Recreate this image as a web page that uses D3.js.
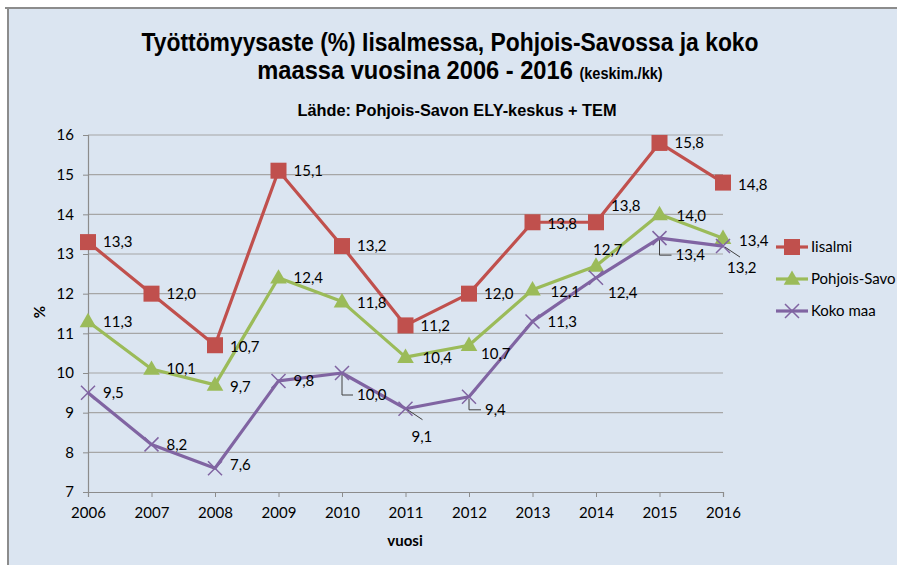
<!DOCTYPE html>
<html>
<head>
<meta charset="utf-8">
<script src="https://cdn.jsdelivr.net/npm/d3@7/dist/d3.min.js"></script>
<style>
  body { margin: 0; background: #fff; }
  svg { display: block; }
</style>
</head>
<body>
<div id="chart"></div>
<script>
let years = [2006, 2007, 2008, 2009, 2010, 2011, 2012, 2013, 2014, 2015, 2016];
let yTicks = [7, 8, 9, 10, 11, 12, 13, 14, 15, 16];
let seriesNames = ['Iisalmi', 'Pohjois-Savo', 'Koko maa'];
let iisalmi = [13.3, 12.0, 10.7, 15.1, 13.2, 11.2, 12.0, 13.8, 13.8, 15.8, 14.8];
let pohjoisSavo = [11.3, 10.1, 9.7, 12.4, 11.8, 10.4, 10.7, 12.1, 12.7, 14.0, 13.4];
let kokoMaa = [9.5, 8.2, 7.6, 9.8, 10.0, 9.1, 9.4, 11.3, 12.4, 13.4, 13.2];

// label offsets (dx, dy) from the point, plus optional leader type
let labelPos = [
    [[15, 0], [15, 0], [15, 2], [15, 0], [15, 0], [15, 0], [15, 0], [15, 1], [15, -17], [15, 0], [15, 2]],
    [[15, 0], [15, 0], [15, 2], [15, 0], [15, 1], [17, 1], [12, 9], [18, 2], [-3, -16], [17, 1], [16, 3]],
    [[15, 0], [15, 0], [15, -3], [15, 0], ['L', 15, 22], ['D', 6, 28], ['L', 16, 13], [15, 0], [12, 15], ['L', 16, 17], ['D', 4, 22]]
];

let colors = ['#c0504d', '#9bbb59', '#8064a2'];
let W = 897, H = 565;
let numFont = 'Lato, "Open Sans", sans-serif';
let titleFont = '"Liberation Sans", Arial, sans-serif';

let svg = d3.select('#chart').append('svg')
    .attr('width', W)
    .attr('height', H);

// frame
svg.append('rect').attr('x', 8).attr('y', 8).attr('width', W).attr('height', H)
    .attr('fill', '#dbe5f1');
svg.append('line').attr('x1', 5).attr('x2', W).attr('y1', 8).attr('y2', 8)
    .attr('stroke', '#8c8c8c').attr('stroke-width', 2);
svg.append('line').attr('x1', 8).attr('x2', 8).attr('y1', 8).attr('y2', H)
    .attr('stroke', '#8c8c8c').attr('stroke-width', 2);

// titles (condensed a bit, like the original)
function condensed(cx, cy, sx) {
    return svg.append('text')
        .attr('transform', 'translate(' + cx + ',' + cy + ') scale(' + sx + ',1)')
        .attr('text-anchor', 'middle')
        .style('font-family', titleFont)
        .style('font-weight', 'bold')
        .style('fill', '#000');
}
condensed(450, 51, 0.88).style('font-size', '26px')
    .text('Työttömyysaste (%) Iisalmessa, Pohjois-Savossa ja koko');
let t2 = condensed(460, 79, 0.91).style('font-size', '26px');
t2.append('tspan').text('maassa vuosina 2006 - 2016 ');
t2.append('tspan').style('font-size', '16px').text('(keskim./kk)');

condensed(457, 116, 0.96).style('font-size', '17px')
    .text('Lähde: Pohjois-Savon ELY-keskus + TEM');

let x = d3.scaleLinear().domain([2006, 2016]).range([88, 723]);
let y = d3.scaleLinear().domain([7, 16]).range([492, 135]);

// gridlines
svg.append('g').selectAll('line')
    .data(yTicks.slice(1))
    .enter().append('line')
    .attr('x1', x(2006)).attr('x2', x(2016))
    .attr('y1', d => y(d)).attr('y2', d => y(d))
    .attr('stroke', '#a6a6a6').attr('stroke-width', 1.2);

let yAxis = svg.append('g')
    .attr('transform', 'translate(' + x(2006) + ',0)')
    .call(d3.axisLeft(y).tickValues(yTicks).tickSize(5).tickPadding(9).tickFormat(d3.format('d')));
let xAxis = svg.append('g')
    .attr('transform', 'translate(0,' + y(7) + ')')
    .call(d3.axisBottom(x).tickValues(years).tickSize(5).tickPadding(10).tickFormat(d3.format('d')));

[yAxis, xAxis].forEach(a => {
    a.select('.domain').attr('stroke', '#8c8c8c').attr('stroke-width', 1.2);
    a.selectAll('.tick line').attr('stroke', '#8c8c8c');
    a.selectAll('text').style('font-family', numFont).style('font-size', '15px').style('fill', '#000');
});

svg.append('text')
    .attr('x', 405).attr('y', 546)
    .attr('text-anchor', 'middle')
    .style('font-family', numFont)
    .style('font-weight', 'bold')
    .style('font-size', '15px')
    .text('vuosi');
svg.append('text')
    .attr('transform', 'translate(45,312) rotate(-90)')
    .attr('text-anchor', 'middle')
    .style('font-family', numFont)
    .style('font-weight', 'bold')
    .style('font-size', '15px')
    .text('%');

let allSeries = [iisalmi, pohjoisSavo, kokoMaa];
let line = d3.line()
    .x((d, i) => x(years[i]))
    .y(d => y(d));

function drawMarker(g, type, cx, cy, color) {
    if (type === 0) {
        g.append('rect').attr('x', cx - 8).attr('y', cy - 8).attr('width', 16).attr('height', 16)
            .attr('fill', color);
    } else if (type === 1) {
        g.append('path').attr('d', d3.symbol().type(d3.symbolTriangle).size(120)())
            .attr('transform', 'translate(' + cx + ',' + (cy + 1) + ')')
            .attr('fill', color);
    } else {
        g.append('path')
            .attr('d', 'M' + (cx - 7) + ',' + (cy - 7) + 'L' + (cx + 7) + ',' + (cy + 7) +
                'M' + (cx - 7) + ',' + (cy + 7) + 'L' + (cx + 7) + ',' + (cy - 7))
            .attr('stroke', color).attr('stroke-width', 1.5).attr('fill', 'none');
    }
}

let plot = svg.append('g');
allSeries.forEach((s, k) => {
    plot.append('path')
        .datum(s)
        .attr('d', line)
        .attr('fill', 'none')
        .attr('stroke', colors[k])
        .attr('stroke-width', 3.2)
        .attr('stroke-linejoin', 'round');
    s.forEach((v, i) => drawMarker(plot, k, x(years[i]), y(v), colors[k]));
});

// data labels
let labels = svg.append('g');
allSeries.forEach((s, k) => {
    s.forEach((v, i) => {
        let p = labelPos[k][i], px = x(years[i]), py = y(v), dx, dy;
        if (p[0] === 'L') {
            dx = p[1]; dy = p[2];
            labels.append('path')
                .attr('d', 'M' + px + ',' + (py + 2) + 'V' + (py + dy) + 'H' + (px + dx - 4))
                .attr('stroke', '#404040').attr('fill', 'none').attr('stroke-width', 1);
        } else if (p[0] === 'D') {
            dx = p[1]; dy = p[2];
            labels.append('line')
                .attr('x1', px + 2).attr('y1', py + 1)
                .attr('x2', px + 17).attr('y2', py + 11)
                .attr('stroke', '#404040').attr('stroke-width', 1);
        } else {
            dx = p[0]; dy = p[1];
        }
        labels.append('text')
            .attr('x', px + dx).attr('y', py + dy)
            .attr('dy', '0.35em')
            .style('font-family', numFont)
            .style('font-size', '15px')
            .style('fill', '#000')
            .text(d3.format('.1f')(v).replace('.', ','));
    });
});

// legend
let legend = svg.append('g');
seriesNames.forEach((name, k) => {
    let ly = 247 + k * 32;
    legend.append('line').attr('x1', 776).attr('x2', 808).attr('y1', ly).attr('y2', ly)
        .attr('stroke', colors[k]).attr('stroke-width', 3.2);
    drawMarker(legend, k, 792, ly, colors[k]);
    legend.append('text')
        .attr('x', 811).attr('y', ly).attr('dy', '0.35em')
        .style('font-family', numFont)
        .style('font-size', '15px')
        .text(name);
});
</script>
</body>
</html>
